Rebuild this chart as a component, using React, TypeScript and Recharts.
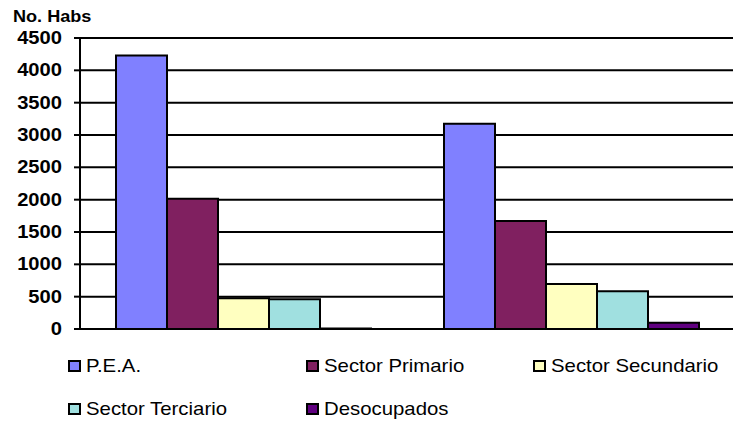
import { BarChart, Bar, XAxis, YAxis, CartesianGrid } from "recharts";

// dos grupos de barras (sin etiqueta en el eje)
const grupos = ["Grupo 1", "Grupo 2"];

const pea = [4230, 3175];
const sectorPrimario = [2015, 1670];
const sectorSecundario = [474, 694];
const sectorTerciario = [460, 582];
const desocupados = [8, 95];

const yTicks = [0, 500, 1000, 1500, 2000, 2500, 3000, 3500, 4000, 4500];

const series = [
  { key: "pea", name: "P.E.A.", color: "#8080FF", values: pea },
  { key: "primario", name: "Sector Primario", color: "#802060", values: sectorPrimario },
  { key: "secundario", name: "Sector Secundario", color: "#FFFFC0", values: sectorSecundario },
  { key: "terciario", name: "Sector Terciario", color: "#A0E0E0", values: sectorTerciario },
  { key: "desocupados", name: "Desocupados", color: "#600080", values: desocupados },
];

const data = grupos.map((grupo, i) => {
  const row: Record<string, string | number> = { grupo };
  series.forEach((s) => {
    row[s.key] = s.values[i];
  });
  return row;
});

const FONT = "'Liberation Sans', Arial, sans-serif";

// posiciones de la leyenda (3 columnas, 2 filas)
const legendCols = [68, 306, 533];
const legendRows = [356, 399];

const YTick = ({ x, y, payload }: any) => (
  <g transform={`translate(${x},${y}) scale(1.12,1)`}>
    <text
      x={0}
      y={0}
      dy={6}
      textAnchor="end"
      fontFamily={FONT}
      fontWeight="bold"
      fontSize={18}
      fill="#000"
    >
      {payload.value}
    </text>
  </g>
);

export default function App() {
  return (
    <div
      style={{
        position: "fixed",
        top: 0,
        left: 0,
        width: 733,
        height: 424,
        overflow: "hidden",
        background: "#fff",
        fontFamily: FONT,
      }}
    >
      <div
        style={{
          position: "absolute",
          left: 13,
          top: 9,
          fontSize: 16,
          lineHeight: "16px",
          fontWeight: "bold",
          transform: "scaleX(1.13)",
          transformOrigin: "left",
          color: "#000",
        }}
      >
        No. Habs
      </div>

      <BarChart
        width={740}
        height={424}
        data={data}
        margin={{ top: 38, right: 4, bottom: 95, left: 0 }}
        barCategoryGap={36}
        barGap={0}
      >
        <CartesianGrid vertical={false} stroke="#000" strokeWidth={2} />
        <XAxis dataKey="grupo" hide />
        <XAxis
          xAxisId="borde"
          type="number"
          domain={[0, 2]}
          ticks={[0, 1, 2]}
          tick={false}
          height={0}
          stroke="#000"
          strokeWidth={2}
          tickSize={6}
          allowDataOverflow
        />
        <YAxis
          width={80}
          domain={[0, 4500]}
          ticks={yTicks}
          interval={0}
          stroke="#000"
          strokeWidth={2}
          tickSize={6}
          tickMargin={12}
          tick={<YTick />}
        />
        {series.map((s) => (
          <Bar
            key={s.key}
            dataKey={s.key}
            name={s.name}
            fill={s.color}
            stroke="#000"
            strokeWidth={2}
            isAnimationActive={false}
          />
        ))}
      </BarChart>

      {series.map((s, i) => (
        <div
          key={`leyenda-${s.key}`}
          style={{
            position: "absolute",
            left: legendCols[i % 3],
            top: legendRows[Math.floor(i / 3)],
            height: 20,
            display: "flex",
            alignItems: "center",
            whiteSpace: "nowrap",
          }}
        >
          <span
            style={{
              width: 13,
              height: 12,
              boxSizing: "border-box",
              border: "2px solid #000",
              background: s.color,
              display: "inline-block",
            }}
          />
          <span
            style={{
              marginLeft: 5,
              fontSize: 18.5,
              lineHeight: "20px",
              color: "#000",
              transform: "scaleX(1.1)",
              transformOrigin: "left",
              display: "inline-block",
            }}
          >
            {s.name}
          </span>
        </div>
      ))}
    </div>
  );
}
